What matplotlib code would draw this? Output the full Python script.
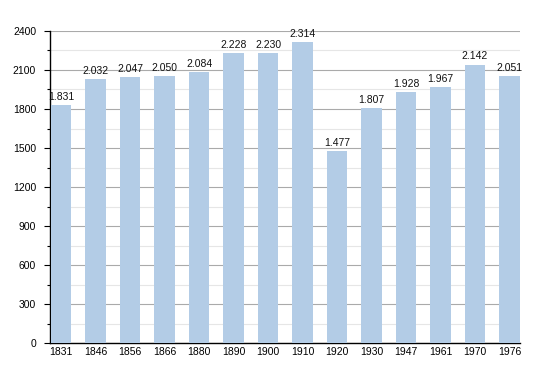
import matplotlib
matplotlib.use('Agg')
import matplotlib.pyplot as plt
from matplotlib.ticker import MultipleLocator

years = ['1831', '1846', '1856', '1866', '1880', '1890', '1900', '1910',
         '1920', '1930', '1947', '1961', '1970', '1976']
population = [1831, 2032, 2047, 2050, 2084, 2228, 2230, 2314,
              1477, 1807, 1928, 1967, 2142, 2051]

plt.rcParams['font.family'] = ['Liberation Sans', 'DejaVu Sans']

fig = plt.figure(figsize=(5.5, 3.73), dpi=100)
ax = fig.add_axes([0.091, 0.080, 0.854, 0.837])

x = range(len(years))
ax.bar(x, population, width=0.6, color='#b3cce6', zorder=3)

for i, v in enumerate(population):
    ax.text(i, v + 25, f'{v:,}'.replace(',', '.'), ha='center', va='bottom',
            fontsize=7.5, color='#111111', zorder=4)

ax.set_xlim(-0.32, len(years) - 0.7)
ax.set_ylim(0, 2400)
ax.yaxis.set_major_locator(MultipleLocator(300))
ax.yaxis.set_minor_locator(MultipleLocator(150))
ax.grid(axis='y', which='major', color='#aaaaaa', linewidth=0.8, zorder=0)
ax.grid(axis='y', which='minor', color='#e6e6e6', linewidth=0.8, zorder=0)

ax.set_xticks(list(x))
ax.set_xticklabels(years)
ax.tick_params(axis='x', length=0, labelsize=7.5, pad=3)
ax.tick_params(axis='y', which='major', length=4, width=0.8, labelsize=7.5, pad=6)
ax.tick_params(axis='y', which='minor', length=2.5, width=0.8)

for s in ['top', 'right']:
    ax.spines[s].set_visible(False)
ax.spines['left'].set_linewidth(1.0)
ax.spines['bottom'].set_linewidth(1.0)

fig.savefig('out.png', dpi=100)
